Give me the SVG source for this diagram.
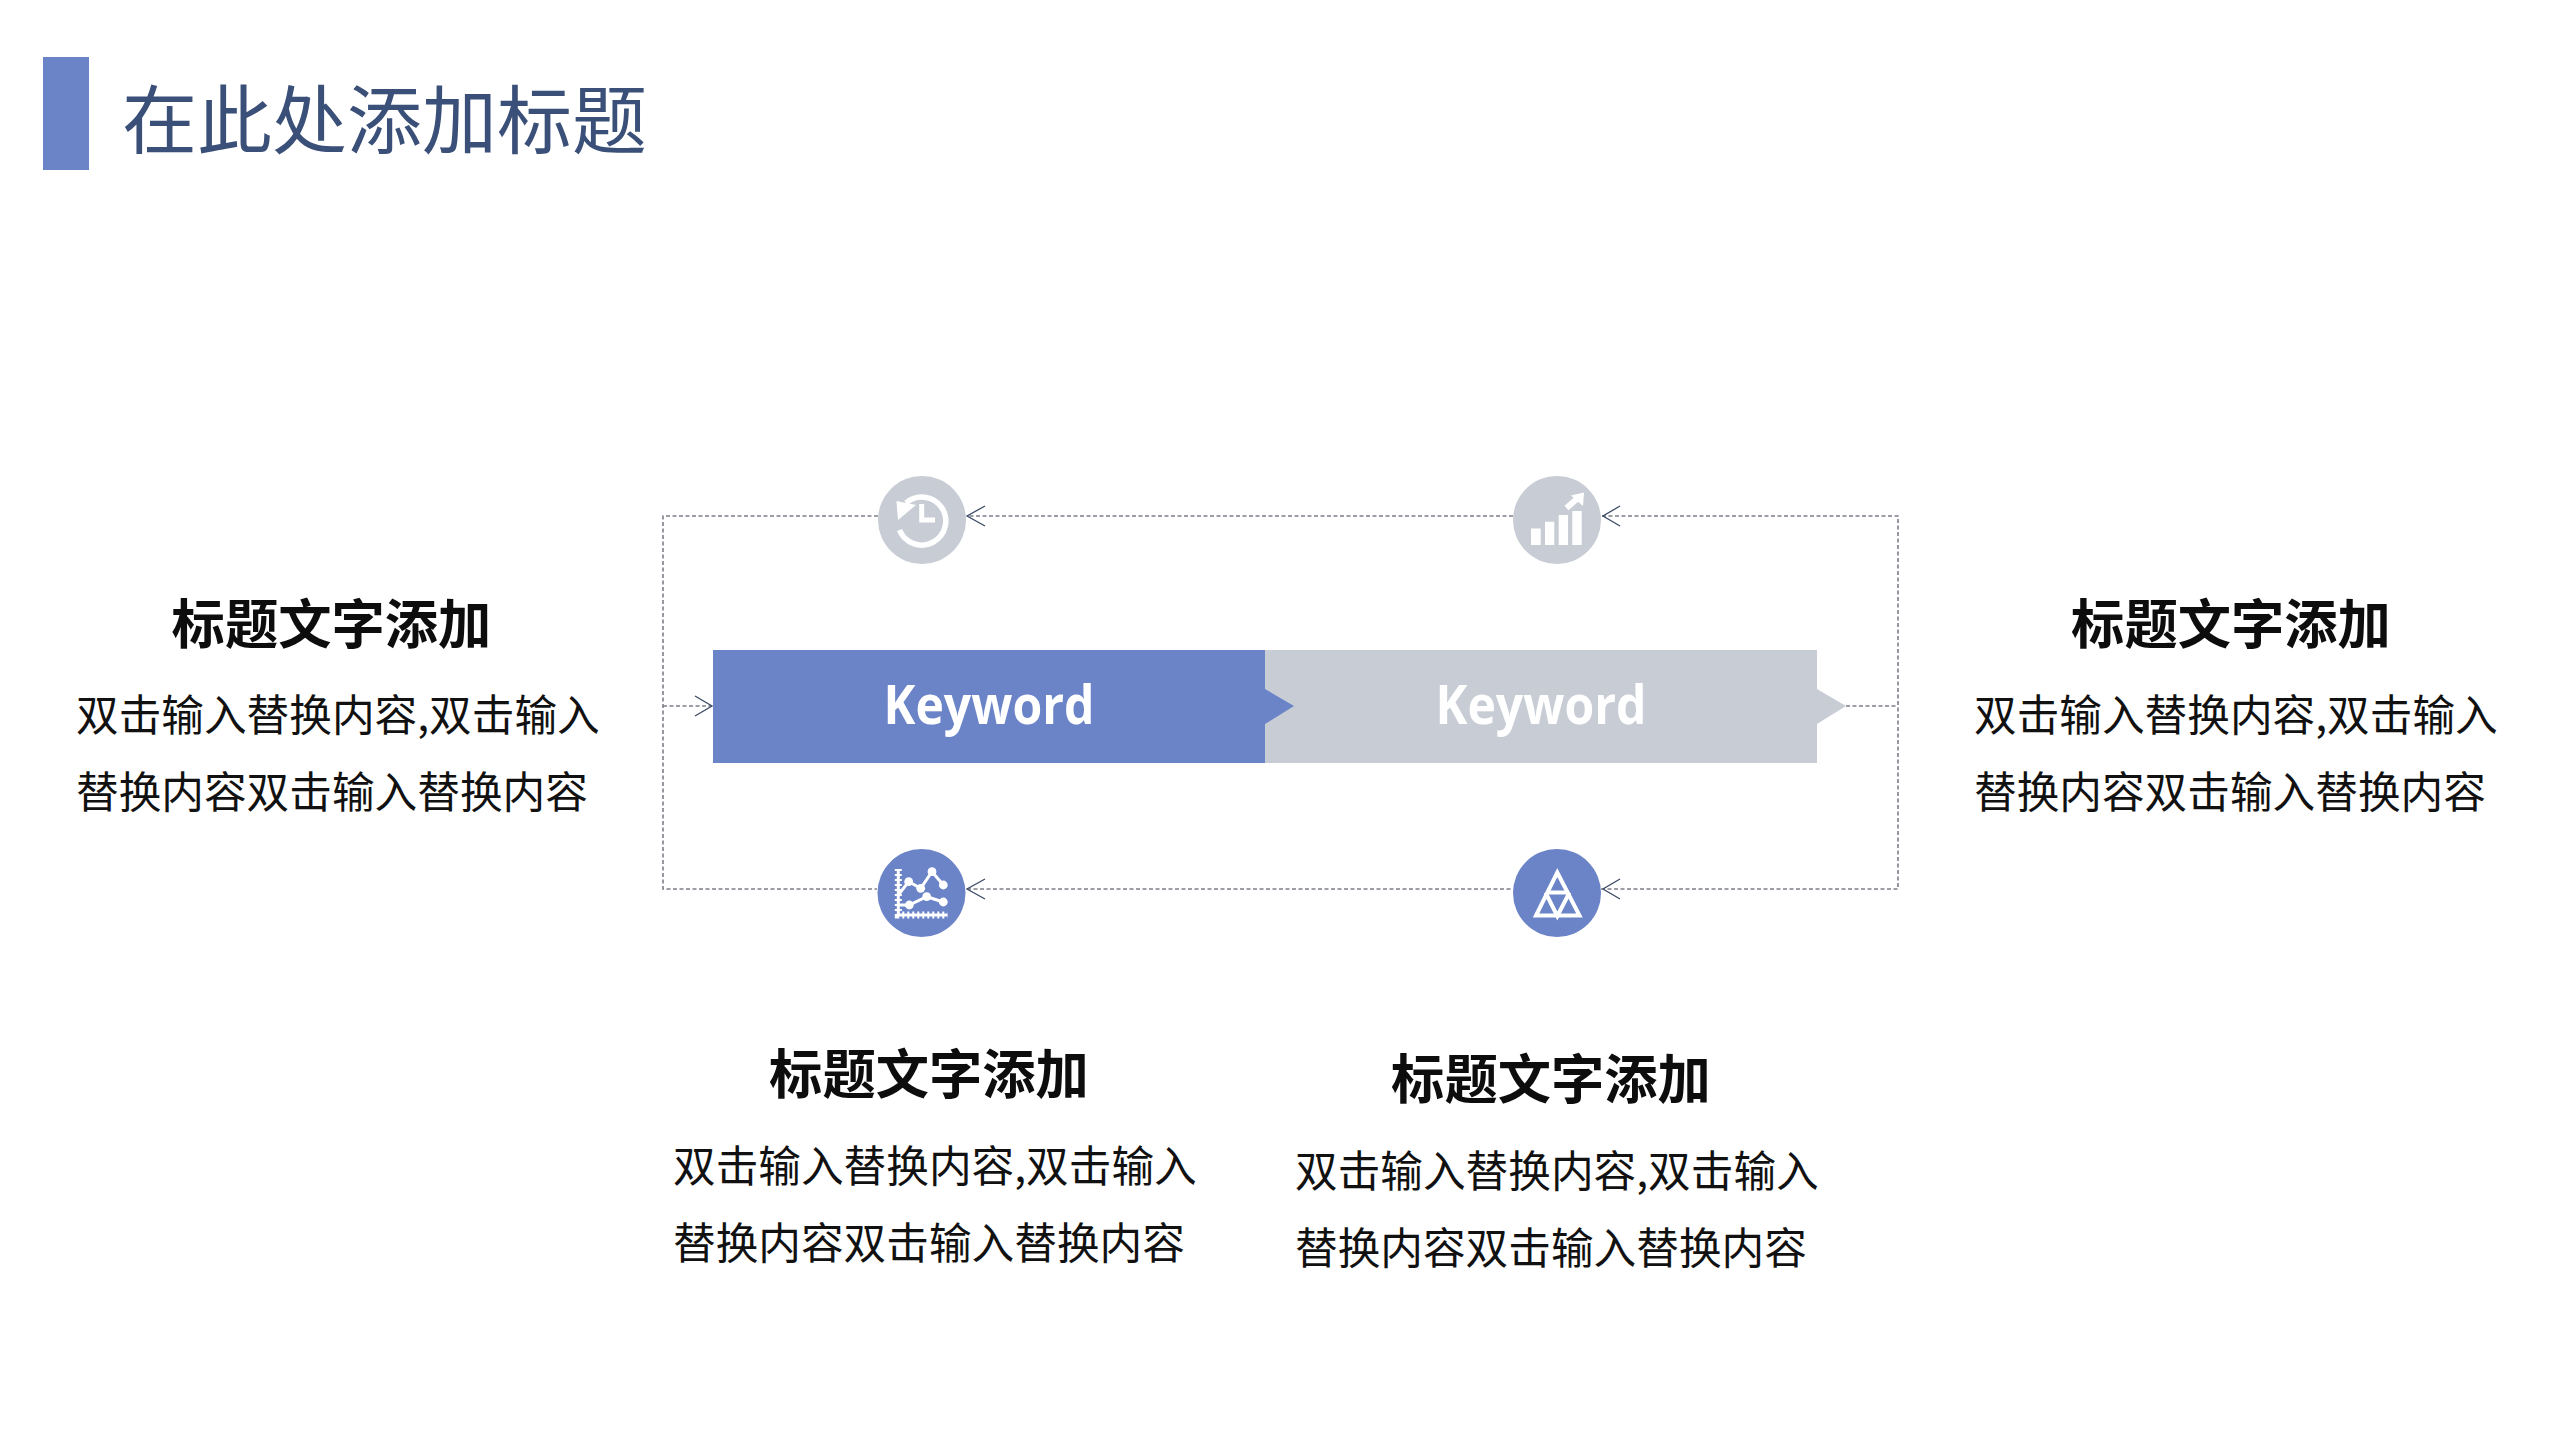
<svg xmlns="http://www.w3.org/2000/svg" width="2560" height="1440" viewBox="0 0 2560 1440">
<style>
text{font-family:"Noto Sans CJK SC","Microsoft YaHei",sans-serif}
.h{font-size:53.3px;font-weight:700;fill:#0d0d0d;text-anchor:middle}
.b{font-size:42.67px;fill:#111}
.k{font-family:"Open Sans","Noto Sans",sans-serif;font-size:54px;font-weight:700;fill:#fff;text-anchor:middle}
.d{fill:none;stroke:#7c8088;stroke-width:1.6;stroke-dasharray:4 2.5}
.a{fill:none;stroke:#3c4a66;stroke-width:1.3}
.w{fill:none;stroke:#fff}
.blue{fill:#6b83c7}.grey{fill:#c8cdd5}
</style>
<rect width="2560" height="1440" fill="#fff"/>
<g id="title"><rect x="43" y="57" width="46" height="113" class="blue"/>
<text x="122" y="148" font-size="75" fill="#3a5078" textLength="525" lengthAdjust="spacingAndGlyphs">在此处添加标题</text></g>
<g id="connectors">
<path class="d" d="M878 516H663V889H877M967 889H1513M1601 889H1898V516H1602M1513 516H967M663 706H712M1846 706H1898"/>
<path class="a" d="M985 506L967 516L985 526M1620 506L1603 516L1620 526M985 879L967 889L985 899M1620 879L1603 889L1620 899M695 696L712 706L695 716"/>
</g>
<g id="bar-2"><path class="grey" d="M1265 650H1817V689L1846 706L1817 724V763H1265Z"/><text class="k" x="1541" y="724" textLength="211" lengthAdjust="spacingAndGlyphs">Keyword</text></g>
<g id="bar-1"><path class="blue" d="M713 650H1265V689L1294 706L1265 724V763H713Z"/><text class="k" x="989" y="724" textLength="211" lengthAdjust="spacingAndGlyphs">Keyword</text></g>
<g id="node-clock"><circle cx="922" cy="520" r="44" class="grey"/>
<path class="w" stroke-width="5.5" d="M899.5 530A24 24 0 1 0 906 503"/><path class="w" stroke-width="5" d="M921.7 504V520H935"/><path d="M896.5 501L916 505L898 520Z" fill="#fff"/></g>
<g id="node-bars"><circle cx="1557" cy="520" r="44" class="grey"/>
<path fill="#fff" d="M1531 528.5h9.7V545H1531ZM1545 521.7h9.3V545H1545ZM1558.7 515h9.3v30h-9.3ZM1572.3 511h9.4v34h-9.4ZM1571 495.5L1584 492.5L1583 506Z"/><path class="w" stroke-width="6" d="M1566.5 508L1579 497"/></g>
<g id="node-chart"><circle cx="921.5" cy="893" r="44" class="blue"/>
<path class="w" stroke-width="3" d="M898.3 869V915H947.5"/><path class="w" stroke-width="7" stroke-dasharray="2 3" d="M898.3 869V915H947.5"/>
<path class="w" stroke-width="3" d="M898.3 895L908.7 881.7L920.7 888.3L932 871.7L943.3 885M898.3 905H909.3L926.7 896.7L943.3 902"/>
<g fill="#fff"><circle cx="908.7" cy="881.7" r="4.4"/><circle cx="920.7" cy="888.3" r="4.4"/><circle cx="932" cy="871.7" r="4.4"/><circle cx="943.3" cy="885" r="4.4"/><circle cx="909.3" cy="905" r="4.4"/><circle cx="926.7" cy="896.7" r="4.4"/><circle cx="943.3" cy="902" r="4.4"/></g></g>
<g id="node-triangle"><circle cx="1557" cy="893" r="44" class="blue"/>
<path class="w" stroke-width="4" d="M1557.3 872.5L1536 915.5H1579.5Z"/><path class="w" stroke-width="4" d="M1546 892.5H1568.5M1545.5 892.5L1557.3 916L1569.5 892.5"/></g>
<g id="text-left"><text class="h" x="331.5" y="644">标题文字添加</text><text class="b" x="76" y="731">双击输入替换内容,双击输入</text><text class="b" x="76" y="808">替换内容双击输入替换内容</text></g>
<g id="text-right"><text class="h" x="2231" y="644">标题文字添加</text><text class="b" x="1974" y="731">双击输入替换内容,双击输入</text><text class="b" x="1974" y="808">替换内容双击输入替换内容</text></g>
<g id="text-bottom-left"><text class="h" x="929" y="1094">标题文字添加</text><text class="b" x="673" y="1182">双击输入替换内容,双击输入</text><text class="b" x="673" y="1259">替换内容双击输入替换内容</text></g>
<g id="text-bottom-right"><text class="h" x="1551" y="1099">标题文字添加</text><text class="b" x="1295" y="1187">双击输入替换内容,双击输入</text><text class="b" x="1295" y="1264">替换内容双击输入替换内容</text></g>
</svg>
